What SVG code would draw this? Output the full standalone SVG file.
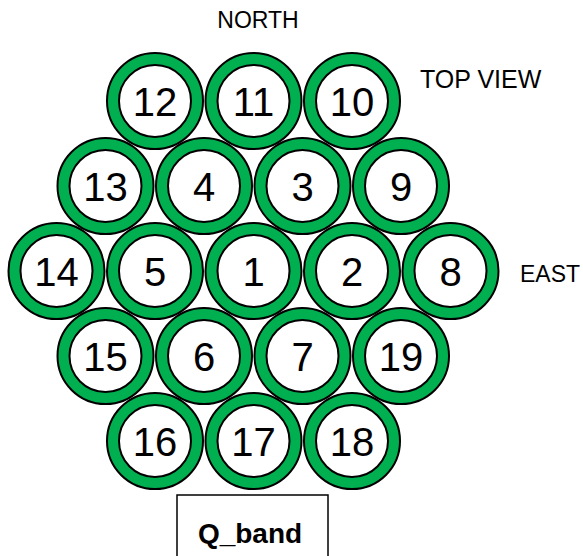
<svg xmlns="http://www.w3.org/2000/svg" width="583" height="556" viewBox="0 0 583 556">
<style>
.o{fill:#00B050;stroke:#000;stroke-width:2}
.i{fill:#fff;stroke:#000;stroke-width:2}
.n{font-family:"Liberation Sans",Arial,sans-serif;font-size:40px;text-anchor:middle;fill:#000}
.l{font-family:"Liberation Sans",Arial,sans-serif;font-size:23px;fill:#000}
.b{font-family:"Liberation Sans",Arial,sans-serif;font-size:28px;font-weight:bold;text-anchor:middle;fill:#000}
</style>
<rect width="583" height="556" fill="#fff"/>
<g id="n12"><circle class="o" cx="155" cy="101" r="48"/><circle class="i" cx="155" cy="101" r="36"/><text class="n" x="155" y="116">12</text></g>
<g id="n11"><circle class="o" cx="253.5" cy="101" r="48"/><circle class="i" cx="253.5" cy="101" r="36"/><text class="n" x="253.5" y="116">11</text></g>
<g id="n10"><circle class="o" cx="352" cy="101" r="48"/><circle class="i" cx="352" cy="101" r="36"/><text class="n" x="352" y="116">10</text></g>
<g id="n13"><circle class="o" cx="105.5" cy="186" r="48"/><circle class="i" cx="105.5" cy="186" r="36"/><text class="n" x="105.5" y="201">13</text></g>
<g id="n4"><circle class="o" cx="204" cy="186" r="48"/><circle class="i" cx="204" cy="186" r="36"/><text class="n" x="204" y="201">4</text></g>
<g id="n3"><circle class="o" cx="302.5" cy="186" r="48"/><circle class="i" cx="302.5" cy="186" r="36"/><text class="n" x="302.5" y="201">3</text></g>
<g id="n9"><circle class="o" cx="401" cy="186" r="48"/><circle class="i" cx="401" cy="186" r="36"/><text class="n" x="401" y="201">9</text></g>
<g id="n14"><circle class="o" cx="56.5" cy="271" r="48"/><circle class="i" cx="56.5" cy="271" r="36"/><text class="n" x="56.5" y="286">14</text></g>
<g id="n5"><circle class="o" cx="155" cy="271" r="48"/><circle class="i" cx="155" cy="271" r="36"/><text class="n" x="155" y="286">5</text></g>
<g id="n1"><circle class="o" cx="253.5" cy="271" r="48"/><circle class="i" cx="253.5" cy="271" r="36"/><text class="n" x="253.5" y="286">1</text></g>
<g id="n2"><circle class="o" cx="352" cy="271" r="48"/><circle class="i" cx="352" cy="271" r="36"/><text class="n" x="352" y="286">2</text></g>
<g id="n8"><circle class="o" cx="450.5" cy="271" r="48"/><circle class="i" cx="450.5" cy="271" r="36"/><text class="n" x="450.5" y="286">8</text></g>
<g id="n15"><circle class="o" cx="105.5" cy="356" r="48"/><circle class="i" cx="105.5" cy="356" r="36"/><text class="n" x="105.5" y="371">15</text></g>
<g id="n6"><circle class="o" cx="204" cy="356" r="48"/><circle class="i" cx="204" cy="356" r="36"/><text class="n" x="204" y="371">6</text></g>
<g id="n7"><circle class="o" cx="302.5" cy="356" r="48"/><circle class="i" cx="302.5" cy="356" r="36"/><text class="n" x="302.5" y="371">7</text></g>
<g id="n19"><circle class="o" cx="401" cy="356" r="48"/><circle class="i" cx="401" cy="356" r="36"/><text class="n" x="401" y="371">19</text></g>
<g id="n16"><circle class="o" cx="155" cy="441" r="48"/><circle class="i" cx="155" cy="441" r="36"/><text class="n" x="155" y="456">16</text></g>
<g id="n17"><circle class="o" cx="253.5" cy="441" r="48"/><circle class="i" cx="253.5" cy="441" r="36"/><text class="n" x="253.5" y="456">17</text></g>
<g id="n18"><circle class="o" cx="352" cy="441" r="48"/><circle class="i" cx="352" cy="441" r="36"/><text class="n" x="352" y="456">18</text></g>
<g id="labels">
<text class="l" x="258" y="28" text-anchor="middle">NORTH</text>
<text class="l" x="420" y="88" style="font-size:25px">TOP VIEW</text>
<text class="l" x="520" y="282">EAST</text>
</g>
<g id="qband"><rect x="177" y="495" width="151" height="75" fill="#fff" stroke="#000" stroke-width="1.5"/><text class="b" x="250" y="543">Q_band</text></g>
</svg>
